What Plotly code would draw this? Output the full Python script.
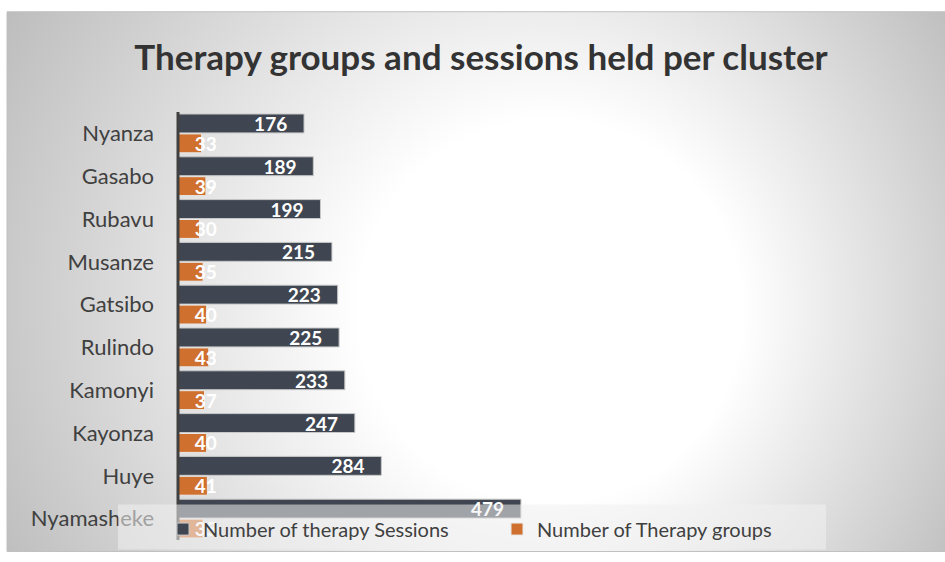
import base64
import plotly.graph_objects as go

clusters = ["Nyanza", "Gasabo", "Rubavu", "Musanze", "Gatsibo", "Rulindo",
            "Kamonyi", "Kayonza", "Huye", "Nyamasheke"]
sessions = [176, 189, 199, 215, 223, 225, 233, 247, 284, 479]
groups = [33, 39, 30, 35, 40, 43, 37, 40, 41, 35]

W, H = 945, 562
AX = 178            # pixel of x = 0
L, R_, T, B = 163, 20, 111.5, 21.5
pw, ph = W - L - R_, H - T - B
SCALE = 0.716       # px per unit
XMIN = -(AX - L) / SCALE
XMAX = XMIN + pw / SCALE

def px_x(px):
    return (px - L) / pw

def px_y(py):
    return (H - B - py) / ph

svg = ('<svg xmlns="http://www.w3.org/2000/svg" width="938" height="541" viewBox="0 0 938 541">'
       '<defs><radialGradient id="g" gradientUnits="userSpaceOnUse" cx="470" cy="280" r="580" fx="580" fy="310">'
       '<stop offset="0" stop-color="#ffffff"/><stop offset="0.33" stop-color="#ffffff"/>'
       '<stop offset="1" stop-color="#b8b8b8"/></radialGradient></defs>'
       '<rect width="938" height="541" fill="url(#g)"/></svg>')
src = "data:image/svg+xml;base64," + base64.b64encode(svg.encode()).decode()

lab_font = dict(family="Lato", size=19, color="white", weight="bold")
NB = "\u00a0"

fig = go.Figure()
fig.add_trace(go.Bar(
    y=clusters, x=sessions, orientation="h", name="Number of therapy Sessions",
    marker=dict(color="#3f4651", line=dict(color="#c8c8c8", width=1)),
    text=sessions, texttemplate="%{x}" + NB * 3,
    textposition="inside", insidetextanchor="end", textangle=0,
    constraintext="none", textfont=lab_font,
))
fig.add_trace(go.Bar(
    y=clusters, x=groups, orientation="h", name="Number of Therapy groups",
    marker=dict(color="#d0702f", line=dict(color="#e8e8e8", width=1)),
    text=groups, texttemplate=NB * 3 + "%{x}",
    textposition="inside", insidetextanchor="start", textangle=0,
    constraintext="none", textfont=lab_font,
))

fig.update_layout(
    width=W, height=H,
    margin=dict(l=L, r=R_, t=T, b=B, autoexpand=False),
    paper_bgcolor="white", plot_bgcolor="rgba(0,0,0,0)",
    barmode="group", bargap=0.07, bargroupgap=0.05,
    title=dict(text="<b>Therapy groups and sessions held per cluster</b>",
               x=481 / W, xref="container", xanchor="center",
               y=1 - 58 / H, yref="container", yanchor="middle",
               font=dict(family="Lato", size=35, color="#333333")),
    xaxis=dict(range=[XMIN, XMAX], visible=False, fixedrange=True),
    yaxis=dict(autorange="reversed", showgrid=False, zeroline=False,
               showline=False, ticks="", ticklabelstandoff=23 - (AX - L),
               tickfont=dict(family="Lato", size=22, color="#404040")),
    showlegend=True,
    legend=dict(orientation="h", x=0, y=px_y(510), xanchor="left", yanchor="top",
                bgcolor="rgba(0,0,0,0)", entrywidth=289, entrywidthmode="pixels",
                font=dict(family="Lato", size=20, color="#404040"),
                traceorder="normal"),
    images=[dict(source=src, xref="paper", yref="paper", x=px_x(7), y=px_y(11),
                 sizex=938 / pw, sizey=541 / ph, sizing="stretch",
                 xanchor="left", yanchor="top", layer="below")],
    shapes=[
        dict(type="rect", xref="paper", yref="paper", x0=px_x(7), x1=px_x(946),
             y0=px_y(552), y1=px_y(11), line=dict(color="#c0c0c0", width=1),
             fillcolor="rgba(0,0,0,0)", layer="below"),
        dict(type="line", xref="x", yref="paper", x0=0, x1=0,
             y0=0, y1=1, line=dict(color="#404040", width=3), layer="above"),
        dict(type="rect", xref="paper", yref="paper", x0=px_x(118), x1=px_x(826),
             y0=px_y(550), y1=px_y(505), fillcolor="rgba(240,240,240,0.55)",
             line=dict(width=0), layer="above"),
    ],
)

fig.write_html("out.html")
